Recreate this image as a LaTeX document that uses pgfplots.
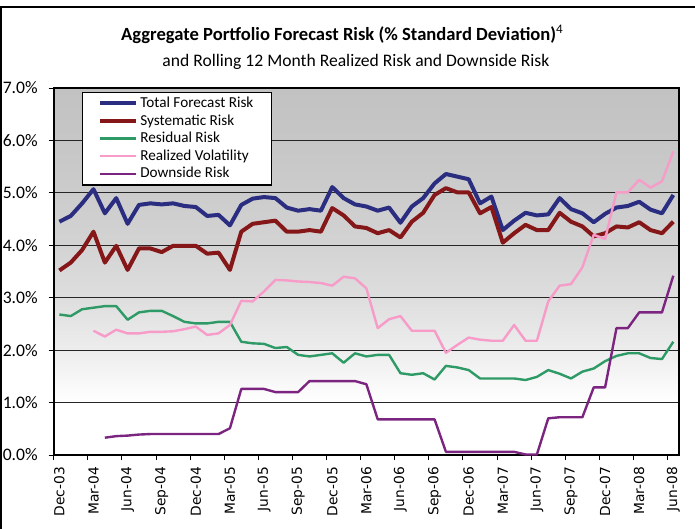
\documentclass[border=0pt]{standalone}
\usepackage{fontspec}
\setmainfont{Carlito}
\newfontfamily\dejavu{DejaVu Sans}
\usepackage{pgfplots}
\pgfplotsset{compat=1.18}
\usepackage{pgfplotstable}

\definecolor{totblue}{HTML}{2B2E80}
\definecolor{sysred}{HTML}{861719}
\definecolor{resgreen}{HTML}{2E9A66}
\definecolor{volpink}{HTML}{F79CC8}
\definecolor{downpurple}{HTML}{7C2580}
\definecolor{bgtwo}{HTML}{EDEDED}
\definecolor{bgthree}{HTML}{DEDEDE}
\definecolor{bgfour}{HTML}{D3D3D3}
\definecolor{bgfive}{HTML}{CCCCCC}
\definecolor{bgsix}{HTML}{C6C6C6}
\definecolor{bgseven}{HTML}{C2C2C2}
\pgfdeclareverticalshading{chartbg}{100bp}{color(0bp)=(white); color(32.1bp)=(white);
  color(39.3bp)=(bgtwo); color(46.4bp)=(bgthree); color(53.6bp)=(bgfour);
  color(60.7bp)=(bgfive); color(67.9bp)=(bgsix); color(75bp)=(bgseven); color(100bp)=(bgseven)}

% month index (0 = Dec-03), values in % std dev
\pgfplotstableread{
i  tot  sys  res  vol  down
0  4.45 3.52 2.68 nan  nan
1  4.56 3.67 2.65 nan  nan
2  4.80 3.91 2.78 nan  nan
3  5.07 4.26 2.81 2.37 nan
4  4.61 3.67 2.84 2.26 0.33
5  4.90 3.99 2.84 2.39 0.36
6  4.41 3.53 2.58 2.32 0.37
7  4.77 3.94 2.72 2.32 0.39
8  4.80 3.94 2.75 2.35 0.40
9  4.78 3.87 2.75 2.35 0.40
10 4.80 3.99 2.65 2.36 0.40
11 4.75 3.99 2.54 2.40 0.40
12 4.73 3.99 2.51 2.45 0.40
13 4.56 3.84 2.51 2.29 0.40
14 4.58 3.86 2.54 2.32 0.40
15 4.38 3.53 2.54 2.48 0.51
16 4.77 4.26 2.16 2.94 1.26
17 4.89 4.41 2.13 2.93 1.26
18 4.92 4.44 2.12 3.12 1.26
19 4.90 4.47 2.04 3.34 1.20
20 4.72 4.26 2.06 3.33 1.20
21 4.66 4.26 1.91 3.31 1.20
22 4.69 4.29 1.88 3.30 1.41
23 4.66 4.26 1.91 3.28 1.41
24 5.11 4.71 1.94 3.23 1.41
25 4.90 4.57 1.76 3.40 1.41
26 4.78 4.36 1.94 3.37 1.41
27 4.74 4.33 1.88 3.18 1.35
28 4.66 4.23 1.91 2.42 0.68
29 4.72 4.29 1.91 2.59 0.68
30 4.43 4.15 1.56 2.65 0.68
31 4.74 4.45 1.53 2.37 0.68
32 4.90 4.62 1.56 2.37 0.68
33 5.18 4.96 1.44 2.37 0.68
34 5.36 5.09 1.70 1.95 0.06
35 5.31 5.01 1.67 2.10 0.06
36 5.26 5.01 1.62 2.24 0.06
37 4.80 4.61 1.46 2.20 0.06
38 4.93 4.73 1.46 2.18 0.06
39 4.29 4.05 1.46 2.18 0.06
40 4.47 4.23 1.46 2.48 0.06
41 4.62 4.39 1.43 2.18 0.01
42 4.57 4.29 1.49 2.18 0.01
43 4.59 4.29 1.62 2.93 0.70
44 4.90 4.62 1.55 3.23 0.72
45 4.69 4.45 1.46 3.26 0.72
46 4.61 4.36 1.59 3.58 0.72
47 4.44 4.17 1.65 4.20 1.29
48 4.60 4.23 1.79 4.12 1.29
49 4.72 4.36 1.89 5.01 2.42
50 4.75 4.34 1.94 5.01 2.42
51 4.83 4.44 1.94 5.25 2.72
52 4.68 4.29 1.85 5.10 2.72
53 4.61 4.23 1.83 5.22 2.72
54 4.96 4.45 2.16 5.79 3.42
}\riskdata

\begin{document}
\begin{tikzpicture}
\useasboundingbox (0pt,0pt) rectangle (347.5pt,-264.5pt);
\draw[line width=0.8pt] (0.5pt,-264.5pt) -- (0.5pt,-3.4pt) -- (347.5pt,-3.4pt);
\node[anchor=base, font=\bfseries\fontsize{9.3}{12}\selectfont] at (171.2pt,-20.35pt)
  {Aggregate Portfolio Forecast Risk (\% Standard Deviation)\textsuperscript{\mdseries 4}};
\node[anchor=base, font=\fontsize{8.8}{11}\selectfont] at (178pt,-33.35pt)
  {and Rolling 12 Month Realized Risk and Downside Risk};
\begin{axis}[
  at={(26.85pt,-227.5pt)}, anchor=south west,
  scale only axis, width=312.65pt, height=183.5pt,
  xmin=-0.5, xmax=54.5, ymin=0, ymax=7,
  axis background/.style={shade, shading=chartbg},
  axis line style={black, line width=0.9pt},
  tick pos=left, tick align=outside, major tick length=2.5pt,
  tick style={black, line width=0.5pt},
  ytick={0,1,...,7}, ymajorgrids,
  grid style={black!85, line width=0.55pt},
  yticklabel={\pgfmathprintnumber[fixed,fixed zerofill,precision=1]{\tick}\%},
  /pgf/number format/assume math mode=true,
  y tick label style={font=\fontsize{8.8}{9}\selectfont, xshift=-2pt},
  xtick={-0.5,2.5,...,53.5},
  xticklabels={Dec-03,Mar-04,Jun-04,Sep-04,Dec-04,Mar-05,Jun-05,Sep-05,Dec-05,Mar-06,Jun-06,Sep-06,Dec-06,Mar-07,Jun-07,Sep-07,Dec-07,Mar-08,Jun-08},
  x tick label style={font=\dejavu\fontsize{6.9}{7}\selectfont, xshift=2.84pt, rotate=90, anchor=east},
  legend style={at={(0.0448,0.99)}, anchor=north west, draw=black, line width=0.6pt,
    fill=white, font=\fontsize{7.6}{8}\selectfont, inner xsep=8pt, inner ysep=1.2pt,
    cells={anchor=west}, nodes={inner ysep=0.9pt, inner xsep=1pt, text height=5.5pt, text depth=1.5pt}},
  legend image code/.code={\draw[#1] (0pt,0pt) -- (18pt,0pt);},
  every axis plot/.append style={line join=round, unbounded coords=jump},
]
\addplot[totblue, line width=2pt] table[x=i, y=tot] {\riskdata};
\addlegendentry{Total Forecast Risk}
\addplot[sysred, line width=2pt] table[x=i, y=sys] {\riskdata};
\addlegendentry{Systematic Risk}
\addplot[resgreen, line width=1.2pt] table[x=i, y=res] {\riskdata};
\addlegendentry{Residual Risk}
\addplot[volpink, line width=1.2pt] table[x=i, y=vol] {\riskdata};
\addlegendentry{Realized Volatility}
\addplot[downpurple, line width=1.2pt] table[x=i, y=down] {\riskdata};
\addlegendentry{Downside Risk}
\end{axis}
\end{tikzpicture}
\end{document}
